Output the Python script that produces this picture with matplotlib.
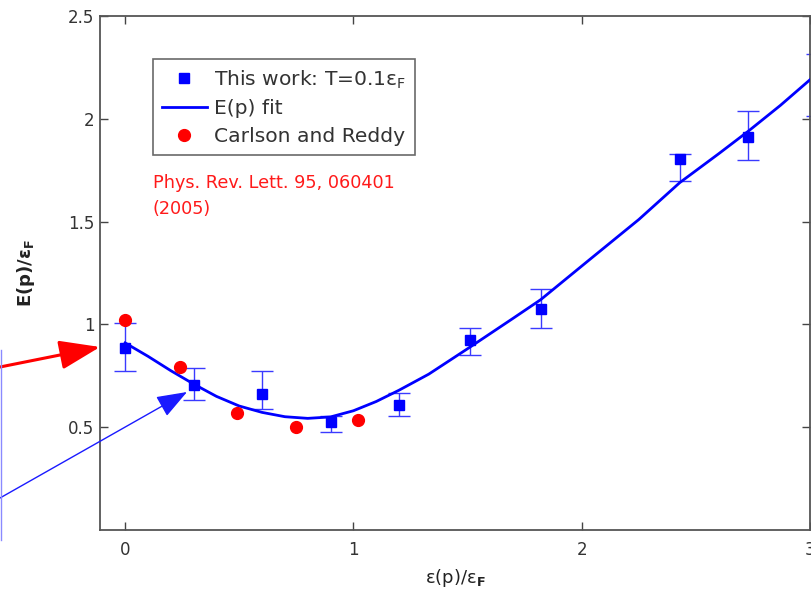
import matplotlib
matplotlib.use("Agg")
import matplotlib.pyplot as plt
from matplotlib.patches import FancyArrowPatch
from matplotlib.lines import Line2D

# ---- data ----
work_x = [0.0, 0.30, 0.60, 0.90, 1.20, 1.51, 1.82, 2.43, 2.73, 3.03]
work_y = [0.885, 0.705, 0.66, 0.525, 0.607, 0.923, 1.074, 1.804, 1.911, 2.164]
work_err_lo = [0.113, 0.074, 0.072, 0.049, 0.054, 0.073, 0.092, 0.107, 0.111, 0.15]
work_err_hi = [0.121, 0.082, 0.113, 0.03, 0.058, 0.059, 0.098, 0.024, 0.127, 0.15]

cr_x = [0.0, 0.24, 0.49, 0.75, 1.02]
cr_y = [1.021, 0.792, 0.568, 0.500, 0.534]

fit_x = [0.0, 0.1, 0.2, 0.3, 0.4, 0.5, 0.6, 0.7, 0.8, 0.9, 1.0, 1.1, 1.2,
         1.33, 1.51, 1.7, 1.82, 2.04, 2.25, 2.43, 2.6, 2.73, 2.87, 3.0]
fit_y = [0.91, 0.845, 0.775, 0.71, 0.65, 0.603, 0.572, 0.551, 0.543, 0.550,
         0.580, 0.625, 0.680, 0.758, 0.889, 1.03, 1.12, 1.32, 1.51, 1.69,
         1.83, 1.94, 2.065, 2.19]

xticks = [0, 1, 2, 3]
yticks = [0.5, 1, 1.5, 2, 2.5]
ytick_labels = ["0.5", "1", "1.5", "2", "2.5"]

# ---- figure ----
fig = plt.figure(figsize=(8.11, 5.90), dpi=100)
ax = fig.add_axes([100 / 811, 1 - 530 / 590, 710 / 811, 514 / 590])

blue = "#0000ff"
ax.errorbar(work_x, work_y, yerr=[work_err_lo, work_err_hi], fmt="none",
            ecolor="#3a3aff", elinewidth=1.0, capsize=8, capthick=1.0,
            zorder=2)
ax.plot(fit_x, fit_y, color=blue, lw=2.0, zorder=3, label="E(p) fit",
        solid_joinstyle="round")
ax.plot(work_x, work_y, "s", color=blue, ms=7, zorder=4, ls="none",
        label="This work: T=0.1ε$_\\mathregular{F}$")
ax.plot(cr_x, cr_y, "o", color="#ff0000", ms=8.5, zorder=4, ls="none",
        label="Carlson and Reddy")

ax.set_xlim(-0.11, 3.0)
ax.set_ylim(0, 2.5)
ax.set_xticks(xticks)
ax.set_xticklabels([str(t) for t in xticks])
ax.set_yticks(yticks)
ax.set_yticklabels(ytick_labels)
ax.tick_params(direction="in", length=6, width=1.0, color="#444444",
               top=True, right=True, labelsize=12, labelcolor="#333333")
ax.tick_params(axis="y", pad=4)
ax.tick_params(axis="x", pad=8)
for s in ax.spines.values():
    s.set_color("#555555")
    s.set_linewidth(1.3)

ax.set_xlabel("ε(p)/ε$_\\mathbf{F}$", fontsize=13, color="#222222", labelpad=6)

# legend
h, l = ax.get_legend_handles_labels()
order = [1, 0, 2]
leg = ax.legend([h[i] for i in order], [l[i] for i in order],
                loc="upper left", bbox_to_anchor=(0.0746, 0.916),
                borderaxespad=0, fancybox=False, fontsize=14.6,
                handlelength=2.2, handletextpad=0.35, borderpad=0.45,
                labelspacing=0.42, frameon=True)
leg.get_frame().set_edgecolor("#444444")
leg.get_frame().set_linewidth(1.2)
for t in leg.get_texts():
    t.set_color("#333333")

# red reference text
ax.text((153 - 100) / 710, (530 - 196) / 514,
        "Phys. Rev. Lett. 95, 060401\n(2005)", transform=ax.transAxes,
        color="#ff1a1a", fontsize=12.7, va="center", ha="left",
        linespacing=1.55)

# y label (partially cut at the left edge)
fig.text(26 / 811, 1 - 273 / 590, "E(p)/ε$_\\mathbf{F}$", rotation=90,
         fontsize=13, fontweight="bold", color="#222222",
         ha="center", va="center")

# arrows from outside the axes
fig.add_artist(FancyArrowPatch((0 / 811, 1 - 367 / 590), (100 / 811, 1 - 347 / 590),
                               transform=fig.transFigure,
                               arrowstyle="-|>,head_length=25,head_width=9",
                               color="#ff0000", lw=2.2, mutation_scale=1,
                               shrinkA=0, shrinkB=0, clip_on=False))
fig.add_artist(FancyArrowPatch((0 / 811, 1 - 498 / 590), (187 / 811, 1 - 392 / 590),
                               transform=fig.transFigure,
                               arrowstyle="-|>,head_length=19,head_width=7",
                               color="#1a1aff", lw=1.0, mutation_scale=1,
                               shrinkA=0, shrinkB=0, clip_on=False))
fig.add_artist(Line2D([0.5 / 811, 0.5 / 811], [1 - 350 / 590, 1 - 540 / 590],
                      transform=fig.transFigure, color="#8a8aff", lw=1.0))

fig.savefig("out.png", dpi=100)
